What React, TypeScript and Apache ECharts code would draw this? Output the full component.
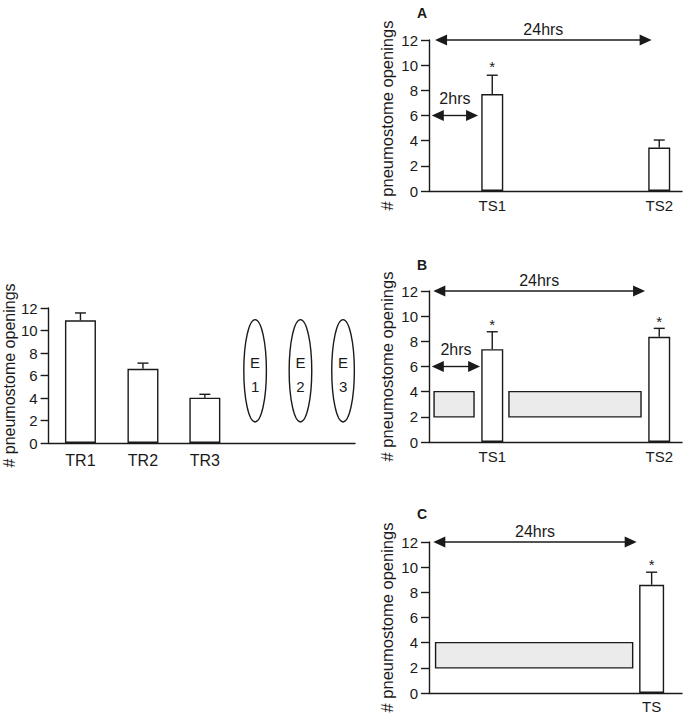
import { useEffect, useRef } from "react";
import * as echarts from "echarts";

// ---------- shared axis values ----------
const yMin = 0;
const yMax = 12;
const yStep = 2;
const yTitle = "# pneumostome openings";

// ---------- left panel (training) ----------
const leftCategories = ["TR1", "TR2", "TR3"];
const leftX = [10.4, 30.8, 51];
const leftMeans = [10.9, 6.6, 4.03];
const leftErrTop = [11.56, 7.1, 4.33];
const ellipseX = [67.4, 82.2, 96.1];
const ellipseBottom = [1.87, 1.87, 1.87];
const ellipseTop = [10.97, 10.97, 10.97];
const ellipseLetter = ["E", "E", "E"];
const ellipseNumber = ["1", "2", "3"];

// ---------- panel A ----------
const aCategories = ["TS1", "TS2"];
const aX = [25, 91];
const aMeans = [7.7, 3.45];
const aErrTop = [9.2, 4.05];
const aStarX = [25];
const aStarY = [10.1];
const aArrowStart = [2.4, 1.1];
const aArrowEnd = [88, 19.4];
const aArrowY = [12, 6];
const aArrowLabels = ["24hrs", "2hrs"];

// ---------- panel B ----------
const bCategories = ["TS1", "TS2"];
const bX = [25, 91];
const bMeans = [7.38, 8.36];
const bErrTop = [8.76, 9.03];
const bStarX = [25, 91];
const bStarY = [9.6, 9.85];
const bArrowStart = [1.7, 1.1];
const bArrowEnd = [85.4, 20.2];
const bArrowY = [12, 6];
const bArrowLabels = ["24hrs", "2hrs"];
const bRectStart = [2.0, 31.6];
const bRectEnd = [17.8, 83.8];
const bRectLow = [2, 2];
const bRectHigh = [4, 4];

// ---------- panel C ----------
const cCategories = ["TS"];
const cX = [88];
const cMeans = [8.6];
const cErrTop = [9.6];
const cStarX = [88];
const cStarY = [10.46];
const cArrowStart = [1.7];
const cArrowEnd = [82.1];
const cArrowY = [12];
const cArrowLabels = ["24hrs"];
const cRectStart = [2.6];
const cRectEnd = [80.5];
const cRectLow = [2];
const cRectHigh = [4];

const panelLetters = ["A", "B", "C"];

const INK = "#1a1a1a";
const FONT = "'Liberation Sans', Arial, Helvetica, sans-serif";
const LW = 1.4;

function barSeries(gi: number, xs: number[], ys: number[], width: number) {
  return {
    type: "bar",
    xAxisIndex: gi,
    yAxisIndex: gi,
    barWidth: width,
    data: xs.map((x, i) => [x, ys[i]]),
    itemStyle: { color: "#ffffff", borderColor: INK, borderWidth: LW },
    z: 3,
  };
}

function errSeries(gi: number, xs: number[], lo: number[], hi: number[]) {
  return {
    type: "custom",
    xAxisIndex: gi,
    yAxisIndex: gi,
    encode: { x: 0, y: [1, 2] },
    data: xs.map((x, i) => [x, lo[i], hi[i]]),
    z: 2,
    renderItem: (_p: any, api: any) => {
      const x = api.value(0);
      const p0 = api.coord([x, api.value(1)]);
      const p1 = api.coord([x, api.value(2)]);
      const cap = 5.5;
      return {
        type: "group",
        children: [
          { type: "line", shape: { x1: p0[0], y1: p0[1], x2: p1[0], y2: p1[1] }, style: { stroke: INK, lineWidth: LW } },
          { type: "line", shape: { x1: p1[0] - cap, y1: p1[1], x2: p1[0] + cap, y2: p1[1] }, style: { stroke: INK, lineWidth: LW } },
        ],
      };
    },
  };
}

function starSeries(gi: number, xs: number[], ys: number[]) {
  return {
    type: "custom",
    xAxisIndex: gi,
    yAxisIndex: gi,
    encode: { x: 0, y: 1 },
    data: xs.map((x, i) => [x, ys[i]]),
    renderItem: (_p: any, api: any) => {
      const p = api.coord([api.value(0), api.value(1)]);
      return {
        type: "text",
        x: p[0],
        y: p[1] + 3,
        style: { text: "*", fontSize: 15, fontFamily: FONT, fill: INK, align: "center", verticalAlign: "middle" },
      };
    },
  };
}

function arrowSeries(gi: number, x1: number[], x2: number[], ys: number[], labels: string[]) {
  return {
    type: "custom",
    xAxisIndex: gi,
    yAxisIndex: gi,
    encode: { x: [0, 1], y: 2 },
    data: x1.map((x, i) => [x, x2[i], ys[i]]),
    z: 4,
    renderItem: (p: any, api: any) => {
      const y = api.value(2);
      const a = api.coord([api.value(0), y]);
      const b = api.coord([api.value(1), y]);
      const L = 12;
      const H = 5.5;
      const gap = y >= yMax ? 3 : 9;
      return {
        type: "group",
        children: [
          { type: "line", shape: { x1: a[0] + L - 1, y1: a[1], x2: b[0] - L + 1, y2: b[1] }, style: { stroke: INK, lineWidth: LW } },
          { type: "polygon", shape: { points: [[a[0], a[1]], [a[0] + L, a[1] - H], [a[0] + L, a[1] + H]] }, style: { fill: INK } },
          { type: "polygon", shape: { points: [[b[0], b[1]], [b[0] - L, b[1] - H], [b[0] - L, b[1] + H]] }, style: { fill: INK } },
          {
            type: "text",
            x: (a[0] + b[0]) / 2,
            y: a[1] - gap,
            style: { text: labels[p.dataIndex], fontSize: 16, fontFamily: FONT, fill: INK, align: "center", verticalAlign: "bottom" },
          },
        ],
      };
    },
  };
}

function rectSeries(gi: number, x1: number[], x2: number[], lo: number[], hi: number[]) {
  return {
    type: "custom",
    xAxisIndex: gi,
    yAxisIndex: gi,
    encode: { x: [0, 1], y: [2, 3] },
    data: x1.map((x, i) => [x, x2[i], lo[i], hi[i]]),
    z: 1,
    renderItem: (_p: any, api: any) => {
      const tl = api.coord([api.value(0), api.value(3)]);
      const br = api.coord([api.value(1), api.value(2)]);
      return {
        type: "rect",
        shape: { x: tl[0], y: tl[1], width: br[0] - tl[0], height: br[1] - tl[1] },
        style: { fill: "#ebebeb", stroke: INK, lineWidth: LW },
      };
    },
  };
}

function catLabelSeries(gi: number, xs: number[], names: string[], fontSize: number, offset: number) {
  return {
    type: "custom",
    xAxisIndex: gi,
    yAxisIndex: gi,
    encode: { x: 0 },
    data: xs.map((x) => [x, 0]),
    clip: false,
    renderItem: (p: any, api: any) => {
      const pt = api.coord([api.value(0), 0]);
      return {
        type: "text",
        x: pt[0],
        y: pt[1] + offset,
        style: { text: names[p.dataIndex], fontSize, fontFamily: FONT, fill: INK, align: "center", verticalAlign: "middle" },
      };
    },
  };
}

function ellipseSeries(gi: number) {
  return {
    type: "custom",
    xAxisIndex: gi,
    yAxisIndex: gi,
    encode: { x: 0, y: [1, 2] },
    data: ellipseX.map((x, i) => [x, ellipseBottom[i], ellipseTop[i]]),
    renderItem: (p: any, api: any) => {
      const x = api.value(0);
      const bot = api.coord([x, api.value(1)]);
      const top = api.coord([x, api.value(2)]);
      const cy = (bot[1] + top[1]) / 2;
      const ry = (bot[1] - top[1]) / 2;
      return {
        type: "group",
        children: [
          { type: "ellipse", shape: { cx: bot[0], cy, rx: 11.3, ry }, style: { fill: "#ffffff", stroke: INK, lineWidth: LW } },
          { type: "text", x: bot[0], y: cy - 8, style: { text: ellipseLetter[p.dataIndex], fontSize: 15, fontFamily: FONT, fill: INK, align: "center", verticalAlign: "middle" } },
          { type: "text", x: bot[0], y: cy + 16, style: { text: ellipseNumber[p.dataIndex], fontSize: 15, fontFamily: FONT, fill: INK, align: "center", verticalAlign: "middle" } },
        ],
      };
    },
  };
}

function makeX(gi: number) {
  return {
    gridIndex: gi,
    type: "value",
    min: 0,
    max: 100,
    axisLine: { show: true, onZero: false, lineStyle: { color: INK, width: LW } },
    axisTick: { show: false },
    axisLabel: { show: false },
    splitLine: { show: false },
  };
}

function makeY(gi: number, nameGap: number, nameSize: number) {
  return {
    gridIndex: gi,
    type: "value",
    min: yMin,
    max: yMax,
    interval: yStep,
    axisLine: { show: true, lineStyle: { color: INK, width: LW } },
    axisTick: { show: true, length: 8, lineStyle: { color: INK, width: LW } },
    axisLabel: { fontSize: 15, color: INK, margin: 11, fontFamily: FONT },
    splitLine: { show: false },
    name: yTitle,
    nameLocation: "middle",
    nameGap,
    nameTextStyle: { fontSize: nameSize, color: INK, fontFamily: FONT },
  };
}

export default function App() {
  const ref = useRef<HTMLDivElement>(null);
  useEffect(() => {
    if (!ref.current) return;
    const chart = echarts.init(ref.current, null, { renderer: "svg" });
    const option: any = {
      animation: false,
      backgroundColor: "#ffffff",
      textStyle: { fontFamily: FONT },
      grid: [
        { left: 48, top: 308, width: 307, height: 135 },
        { left: 429, top: 40, width: 253, height: 151 },
        { left: 429, top: 291, width: 253, height: 151 },
        { left: 429, top: 542, width: 253, height: 151 },
      ],
      xAxis: [makeX(0), makeX(1), makeX(2), makeX(3)],
      yAxis: [makeY(0, 31, 16), makeY(1, 34, 16.5), makeY(2, 34, 16.5), makeY(3, 34, 16.5)],
      graphic: [
        { type: "text", left: 417, top: 6, style: { text: panelLetters[0], fontSize: 14, fontWeight: "bold", fontFamily: FONT, fill: INK } },
        { type: "text", left: 417, top: 258, style: { text: panelLetters[1], fontSize: 14, fontWeight: "bold", fontFamily: FONT, fill: INK } },
        { type: "text", left: 417, top: 507, style: { text: panelLetters[2], fontSize: 14, fontWeight: "bold", fontFamily: FONT, fill: INK } },
      ],
      series: [
        // left
        errSeries(0, leftX, leftMeans, leftErrTop),
        barSeries(0, leftX, leftMeans, 31),
        ellipseSeries(0),
        catLabelSeries(0, leftX, leftCategories, 16, 17),
        // A
        errSeries(1, aX, aMeans, aErrTop),
        barSeries(1, aX, aMeans, 22),
        starSeries(1, aStarX, aStarY),
        arrowSeries(1, aArrowStart, aArrowEnd, aArrowY, aArrowLabels),
        catLabelSeries(1, aX, aCategories, 15, 14),
        // B
        rectSeries(2, bRectStart, bRectEnd, bRectLow, bRectHigh),
        errSeries(2, bX, bMeans, bErrTop),
        barSeries(2, bX, bMeans, 22),
        starSeries(2, bStarX, bStarY),
        arrowSeries(2, bArrowStart, bArrowEnd, bArrowY, bArrowLabels),
        catLabelSeries(2, bX, bCategories, 15, 14),
        // C
        rectSeries(3, cRectStart, cRectEnd, cRectLow, cRectHigh),
        errSeries(3, cX, cMeans, cErrTop),
        barSeries(3, cX, cMeans, 25),
        starSeries(3, cStarX, cStarY),
        arrowSeries(3, cArrowStart, cArrowEnd, cArrowY, cArrowLabels),
        catLabelSeries(3, cX, cCategories, 15, 13),
      ],
    };
    chart.setOption(option);
    return () => chart.dispose();
  }, []);
  return (
    <div
      ref={ref}
      style={{ position: "absolute", left: 0, top: 0, width: 684, height: 719, background: "#fff" }}
    />
  );
}
